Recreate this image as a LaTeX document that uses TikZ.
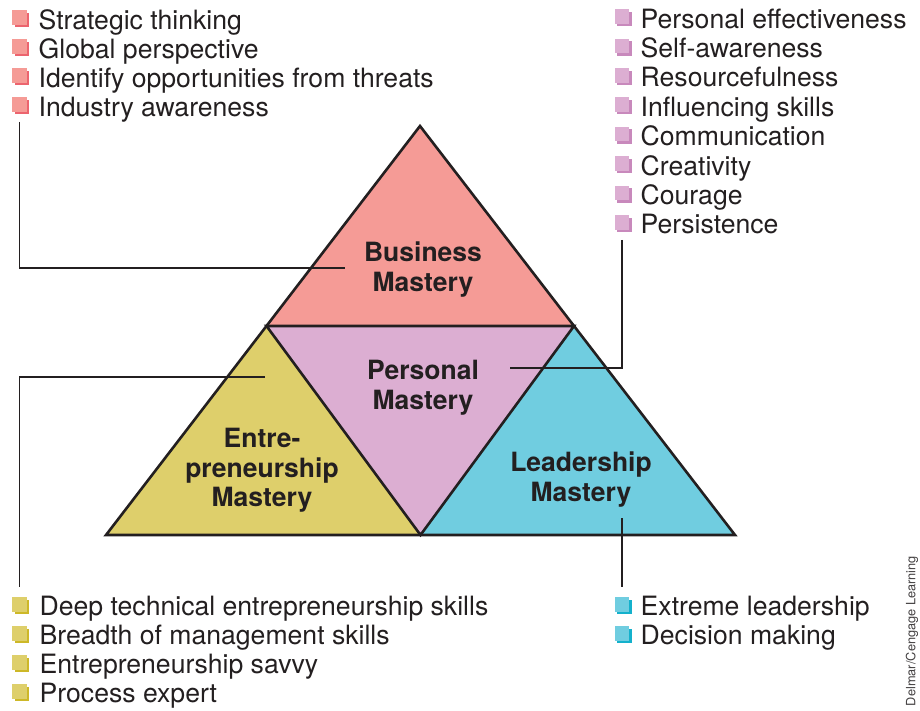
\documentclass[tikz,border=0pt]{standalone}
\usepackage{fontspec}
\setmainfont{TeX Gyre Heros}
\usepackage{tikz}
\usetikzlibrary{shadows}
\definecolor{busred}{RGB}{245,155,150}
\definecolor{busdark}{RGB}{236,100,110}
\definecolor{perpink}{RGB}{220,174,210}
\definecolor{perdark}{RGB}{200,137,188}
\definecolor{entyellow}{RGB}{222,207,107}
\definecolor{entdark}{RGB}{205,184,40}
\definecolor{leadcyan}{RGB}{112,205,224}
\definecolor{leaddark}{RGB}{20,177,204}
\definecolor{inkgray}{RGB}{35,31,32}

\begin{document}
\begin{tikzpicture}[x=1pt, y=-1pt,
    lbl/.style={font=\fontsize{26.5}{29.5}\selectfont\bfseries, text=inkgray, align=center, inner sep=0, anchor=north},
    item/.style={font=\fontsize{26.6}{29.5}\selectfont, text=inkgray, inner sep=0, anchor=base west},
    sq/.style 2 args={minimum size=14.5pt, inner sep=0, fill=#1,
        general shadow={shadow xshift=2.5pt, shadow yshift=-2.5pt, fill=#2}},
    lead/.style={line width=1.3pt, inkgray}]
    \useasboundingbox (0,0) rectangle (920,710);

    % Pyramid corners
    \coordinate (apex) at (420,126);
    \coordinate (bl) at (106,535);
    \coordinate (br) at (735,535);
    \coordinate (ml) at (266.5,326);
    \coordinate (mr) at (574,326);
    \coordinate (mb) at (420.5,535);

    % Four masteries
    \fill[busred] (apex) -- (ml) -- (mr) -- cycle;
    \fill[perpink] (ml) -- (mr) -- (mb) -- cycle;
    \fill[entyellow] (ml) -- (mb) -- (bl) -- cycle;
    \fill[leadcyan] (mr) -- (br) -- (mb) -- cycle;
    \draw[line width=2.6pt, inkgray] (apex) -- (bl) -- (br) -- cycle;
    \draw[line width=2.6pt, inkgray] (ml) -- (mr) -- (mb) -- cycle;

    % Labels
    \node[lbl] (bus) at (423,242) {Business\\Mastery};
    \node[lbl] (per) at (423,360) {Personal\\Mastery};
    \node[lbl] (ent) at (262,428) {Entre-\\preneurship\\Mastery};
    \node[lbl] (lead) at (581,452) {Leadership\\Mastery};

    % Skill lists
    \foreach \t [count=\i] in {Strategic thinking, Global perspective,
        Identify opportunities from threats, Industry awareness} {
        \node[sq={busred}{busdark}] (busq-\i) at (19.5, 17.5+29*\i-29) {};
        \node[item] (bus-\i) at (38.5, 29+29*\i-29) {\t};
    }
    \foreach \t [count=\i] in {Personal effectiveness, Self-awareness, Resourcefulness,
        Influencing skills, Communication, Creativity, Courage, Persistence} {
        \node[sq={perpink}{perdark}] (perq-\i) at (622, 16.5+29.4*\i-29.4) {};
        \node[item] (per-\i) at (640.5, 28+29.4*\i-29.4) {\t};
    }
    \foreach \t [count=\i] in {Deep technical entrepreneurship skills,
        Breadth of management skills, Entrepreneurship savvy, Process expert} {
        \node[sq={entyellow}{entdark}] (entq-\i) at (19.5, 604.3+29*\i-29) {};
        \node[item] (ent-\i) at (39.5, 615.8+29*\i-29) {\t};
    }
    \foreach \t [count=\i] in {Extreme leadership, Decision making} {
        \node[sq={leadcyan}{leaddark}] (leadq-\i) at (622, 604.3+29*\i-29) {};
        \node[item] (lead-\i) at (640.5, 615.8+29*\i-29) {\t};
    }

    % Leader lines
    \coordinate (busend) at (345,268);
    \coordinate (perend) at (510,368);
    \coordinate (entend) at (265,377);
    \coordinate (leadend) at (622,518);
    \draw[lead] ([yshift=-10pt]busq-4.south) |- (busend);
    \draw[lead] ([yshift=-10pt]perq-8.south) |- (perend);
    \draw[lead] (entend) -| ([yshift=10pt]entq-1.north);
    \draw[lead] (leadend) -- ([yshift=10pt]leadq-1.north);

    % Credit
    \node[font=\fontsize{12.8}{14}\selectfont, text=inkgray!85, rotate=90, inner sep=0]
        (credit) at (912,631) {Delmar/Cengage Learning};
\end{tikzpicture}
\end{document}
